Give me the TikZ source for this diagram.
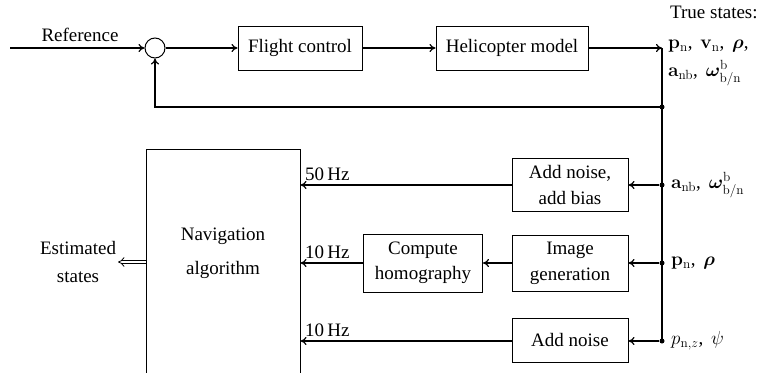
\RequirePackage{fix-cm}
\documentclass[tikz,border=0pt]{standalone}
\usepackage{amsmath}
\usepackage{bm}
\usepackage[no-math]{fontspec}
\setmainfont{Liberation Serif}
\usetikzlibrary{arrows.meta,calc}

\begin{document}
\begin{tikzpicture}[x=1pt,y=-1pt,
  font=\fontsize{19}{23}\selectfont,
  blk/.style={draw,line width=1pt,inner sep=0pt,align=center},
  conn/.style={line width=1.2pt,-{To[length=6pt,width=8pt]}},
  wire/.style={line width=1.2pt},
  jdot/.style={circle,fill,inner sep=0pt,minimum size=5pt},
  txt/.style={inner sep=0pt}]
\useasboundingbox (0,0) rectangle (762,372);

% top loop
\coordinate (ref) at (10,48);
\node[draw,line width=1pt,circle,minimum size=20pt,inner sep=0pt] (sum) at (155,48) {};
\node[blk,minimum width=124pt,minimum height=44pt] (fc) at (300,48) {Flight control};
\node[blk,minimum width=152pt,minimum height=44pt] (heli) at (512,48) {Helicopter model};
\node[txt] (reflbl) at (80,35) {Reference};

\coordinate (j0) at (662,48);
\node[jdot] (jf) at (662,107) {};
\node[jdot] (j1) at (662,185) {};
\node[jdot] (j2) at (662,263) {};
\node[jdot] (j3) at (662,341) {};

\draw[conn] (ref) -- (sum.west);
\draw[conn] (sum.east) -- (fc.west);
\draw[conn] (fc.east) -- (heli.west);
\draw[conn] (heli.east) -- (j0);
\draw[wire] (j0) -- (j3.center);
\draw[conn] (jf.center) -| (sum.south);

% true states
\node[txt,anchor=west] (ts1) at (670,12) {True states:};
\node[txt,anchor=west] (ts2) at (668,46) {$\mathbf{p}_\mathrm{n}$,\, $\mathbf{v}_\mathrm{n}$,\, $\bm{\rho}$,};
\node[txt,anchor=west] (ts3) at (668,73) {$\mathbf{a}_\mathrm{nb}$,\, $\bm{\omega}^\mathrm{b}_{\mathrm{b}/\mathrm{n}}$};

% lower blocks
\node[blk,minimum width=154pt,minimum height=226pt] (nav) at (223,262) {};
\node[txt,align=center] (navtxt) at (223,253) {Navigation\\[11pt]algorithm};

\node[blk,minimum width=116pt,minimum height=53pt] (ab) at (570,185) {Add noise,\\[3pt]add bias};
\node[blk,minimum width=116pt,minimum height=56pt] (ig) at (570,263) {Image\\[3pt]generation};
\node[blk,minimum width=116pt,minimum height=44pt] (an) at (570,340) {Add noise};
\node[blk,minimum width=119pt,minimum height=58pt] (hg) at (423,263) {Compute\\[2pt]homography};

\draw[conn] (j1) -- (ab.east);
\draw[conn] (j2) -- (ig.east);
\draw[conn] (j3) -- (an.east |- j3);
\draw[conn] (ab.west) -- (ab.west -| nav.east);
\draw[conn] (ig.west) -- (hg.east);
\draw[conn] (hg.west) -- (hg.west -| nav.east);
\draw[conn] (an.west |- j3) -- (j3 -| nav.east);

\node[txt,anchor=south west] (hz1) at (305,181) {50\,Hz};
\node[txt,anchor=south west] (hz2) at (305,259) {10\,Hz};
\node[txt,anchor=south west] (hz3) at (305,337) {10\,Hz};

\node[txt,anchor=west] (l1) at (671,185) {$\mathbf{a}_\mathrm{nb}$,\, $\bm{\omega}^\mathrm{b}_{\mathrm{b}/\mathrm{n}}$};
\node[txt,anchor=west] (l2) at (671,263) {$\mathbf{p}_\mathrm{n}$,\, $\bm{\rho}$};
\node[txt,anchor=west] (l3) at (671,341) {$p_{\mathrm{n},z}$,\, $\psi$};

% estimated states
\coordinate (est) at (118,262);
\draw[line width=0.8pt,double,double distance=2.5pt,-{Implies}] (nav.west |- est) -- (est);
\node[txt,align=center] (esttxt) at (78,262) {Estimated\\[5pt]states};
\end{tikzpicture}
\end{document}
